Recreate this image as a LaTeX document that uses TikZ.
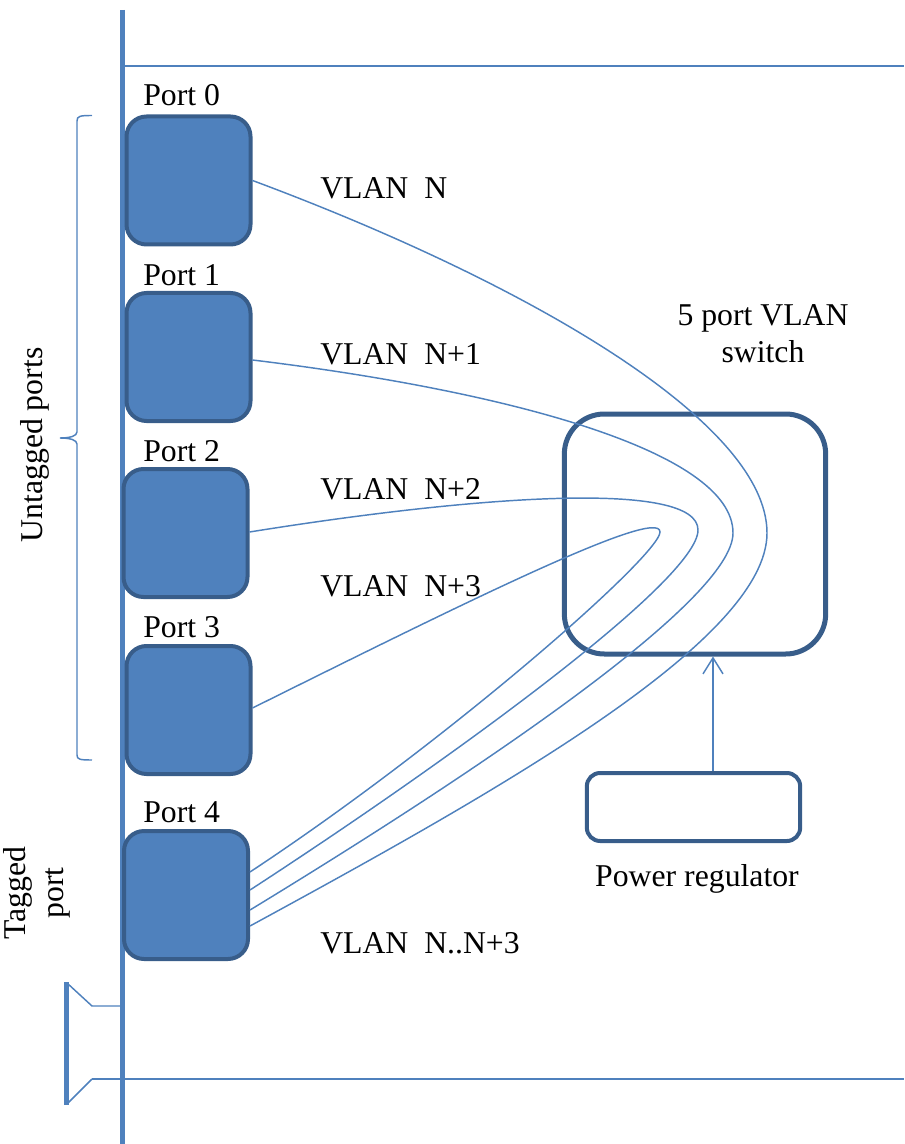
\documentclass[tikz,border=0pt]{standalone}
\usepackage{fontspec}
\setmainfont{Liberation Serif}
\usetikzlibrary{calc,arrows.meta}
\definecolor{bfill}{HTML}{4F81BD}
\definecolor{bdraw}{HTML}{385D8A}
\tikzset{
  port/.style={draw=bdraw,fill=bfill,line width=3pt,rounded corners=15pt,minimum width=93pt,minimum height=96pt,inner sep=0pt},
  wire/.style={draw=bfill,line width=1.1pt},
  lbl/.style={font=\fontsize{23.8}{28}\selectfont,inner sep=0pt},
}
\begin{document}
\begin{tikzpicture}[x=0.75pt,y=-0.75pt]
\useasboundingbox (0,0) rectangle (904,1144);
% frame lines
\draw[wire] (125,66) -- (904,66);
\draw[wire] (92,1079) -- (904,1079);
\draw[draw=bfill,line width=3.75pt] (122,10) -- (122,1144);
% bottom-left fitting
\draw[draw=bfill,line width=3.75pt] (66,982) -- (66,1105);
\draw[wire] (67,983) -- (92,1006) -- (120,1006);
\draw[wire] (67,1104) -- (92,1079);
% brace
\draw[wire] (92,115.5) .. controls (80,115.5) and (77,116) .. (77,121) -- (77,432) .. controls (77,436) and (70,438) .. (60,438)
  (60,438) .. controls (70,438) and (77,440) .. (77,444) -- (77,755) .. controls (77,759.5) and (80,760) .. (92,760);
% ports
\node[port] (p0) at (188.5,180.5) {};
\node[port] (p1) at (188.5,357) {};
\node[port] (p2) at (185.5,533) {};
\node[port] (p3) at (188.5,710) {};
\node[port] (p4) at (186,895) {};
\node[lbl,anchor=base west] (l0) at (143,106) {Port 0};
\node[lbl,anchor=base west] (l1) at (143,286) {Port 1};
\node[lbl,anchor=base west] (l2) at (143,461) {Port 2};
\node[lbl,anchor=base west] (l3) at (143,637) {Port 3};
\node[lbl,anchor=base west] (l4) at (143,822) {Port 4};
% switch and regulator
\node[draw=bdraw,line width=3.75pt,rounded corners=30pt,minimum width=196pt,minimum height=180pt,inner sep=0pt] (sw) at (695,534) {};
\node[draw=bdraw,line width=3pt,rounded corners=10pt,minimum width=160pt,minimum height=51pt,inner sep=0pt] (pr) at (693.5,807) {};
\coordinate (ax) at (713,0);
\draw[wire,-{Straight Barb[length=12pt,width=15pt]}] (pr.north -| ax) -- (sw.south -| ax);
% curves
\coordinate (e0) at ($(p4.east)+(0,31)$);
\coordinate (e1) at ($(p4.east)+(0,15)$);
\coordinate (e2) at ($(p4.east)+(0,-5)$);
\coordinate (e3) at ($(p4.east)+(0,-23)$);
\draw[wire] (p0.east) .. controls (520,280) and (767,420) .. (767,533) .. controls (767,640) and (500,790) .. (e0);
\draw[wire] ($(p1.east)+(0,3)$) .. controls (500,390) and (733,450) .. (733,533) .. controls (733,600) and (480,770) .. (e1);
\draw[wire] ($(p2.east)+(0,-1)$) .. controls (480,495) and (698,480) .. (698,530) .. controls (698,580) and (450,760) .. (e2);
\draw[wire] ($(p3.east)+(0,-2)$) .. controls (450,610) and (660,505) .. (660,532) .. controls (660,555) and (450,740) .. (e3);
% labels
\node[lbl,anchor=base west] (v0) at (320,199) {VLAN\ \ N};
\node[lbl,anchor=base west] (v1) at (320,364) {VLAN\ \ N+1};
\node[lbl,anchor=base west] (v2) at (320,499) {VLAN\ \ N+2};
\node[lbl,anchor=base west] (v3) at (320,596) {VLAN\ \ N+3};
\node[lbl,anchor=base west] (v4) at (320,953) {VLAN\ \ N..N+3};
\node[lbl,align=center] (swl) at (763,334) {5 port VLAN\\switch};
\node[lbl,anchor=base] (prl) at (697,886) {Power regulator};
\node[lbl,rotate=90] (ut) at (35,445) {Untagged ports};
\node[lbl,rotate=90,align=center] (tg) at (37,893) {Tagged\\port};
\end{tikzpicture}
\end{document}
